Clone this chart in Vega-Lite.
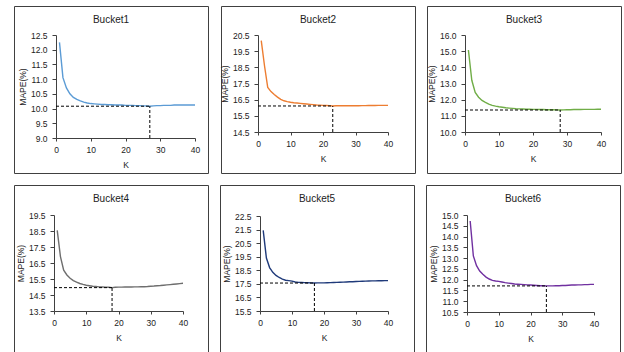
{
"$schema":"https://vega.github.io/schema/vega-lite/v6.json",
"padding":{"left":13,"top":5,"right":0,"bottom":0},
"config":{"view":{"stroke":"#404040","strokeWidth":1},"font":"Liberation Sans",
 "axis":{"grid":false,"domainColor":"#404040","tickColor":"#404040","labelColor":"#222","titleColor":"#222","labelFont":"Liberation Sans","titleFont":"Liberation Sans","labelFontSize":8.5,"titleFontSize":8.5,"titleFontWeight":"normal"},
 "axisX":{"values":[0,1,2,3,4,5,6,7,8,9,10,11,12,13,14,15,16,17,18,19,20,21,22,23,24,25,26,27,28,29,30,31,32,33,34,35,36,37,38,39,40],"labelExpr":"datum.value % 10 === 0 ? datum.label : ''","labelOverlap":false,"labelFlush":false,"tickSize":3,"labelPadding":4,"titleY":26,"titleBaseline":"middle","title":"K"},
 "axisY":{"format":".1f","tickSize":4,"labelPadding":5,"titlePadding":3,"title":"MAPE(%)","labelOverlap":false},
 "title":{"fontSize":10,"fontWeight":"normal","font":"Liberation Sans","color":"#222","anchor":"middle","frame":"group","baseline":"middle","offset":-19},
 "line":{"strokeWidth":1.4},
 "rule":{"strokeDash":[3,2],"color":"#000","strokeWidth":1}
},
"datasets":{
"mins":[{"b":1,"k0":0,"k":27,"v":10.08,"lo":9.0},{"b":2,"k0":0,"k":23,"v":16.11,"lo":14.5},{"b":3,"k0":0,"k":28,"v":11.36,"lo":10.0},{"b":4,"k0":0,"k":18,"v":14.96,"lo":13.5},{"b":5,"k0":0,"k":17,"v":17.56,"lo":15.5},{"b":6,"k0":0,"k":25,"v":11.71,"lo":10.5}],
"curves":[
{"b":1,"K":1,"M":12.25},{"b":1,"K":2,"M":11.05},{"b":1,"K":3,"M":10.7},{"b":1,"K":4,"M":10.5},{"b":1,"K":5,"M":10.38},{"b":1,"K":6,"M":10.31},{"b":1,"K":7,"M":10.26},{"b":1,"K":8,"M":10.22},{"b":1,"K":9,"M":10.19},{"b":1,"K":10,"M":10.17},{"b":1,"K":11,"M":10.16},{"b":1,"K":12,"M":10.15},{"b":1,"K":13,"M":10.14},{"b":1,"K":14,"M":10.14},{"b":1,"K":15,"M":10.13},{"b":1,"K":16,"M":10.13},{"b":1,"K":17,"M":10.12},{"b":1,"K":18,"M":10.12},{"b":1,"K":19,"M":10.12},{"b":1,"K":20,"M":10.11},{"b":1,"K":21,"M":10.11},{"b":1,"K":22,"M":10.11},{"b":1,"K":23,"M":10.1},{"b":1,"K":24,"M":10.1},{"b":1,"K":25,"M":10.09},{"b":1,"K":26,"M":10.09},{"b":1,"K":27,"M":10.08},{"b":1,"K":28,"M":10.09},{"b":1,"K":29,"M":10.1},{"b":1,"K":30,"M":10.1},{"b":1,"K":31,"M":10.11},{"b":1,"K":32,"M":10.11},{"b":1,"K":33,"M":10.11},{"b":1,"K":34,"M":10.12},{"b":1,"K":35,"M":10.12},{"b":1,"K":36,"M":10.12},{"b":1,"K":37,"M":10.12},{"b":1,"K":38,"M":10.12},{"b":1,"K":39,"M":10.12},{"b":1,"K":40,"M":10.12},
{"b":2,"K":1,"M":20.15},{"b":2,"K":2,"M":18.6},{"b":2,"K":3,"M":17.25},{"b":2,"K":4,"M":17.0},{"b":2,"K":5,"M":16.82},{"b":2,"K":6,"M":16.66},{"b":2,"K":7,"M":16.52},{"b":2,"K":8,"M":16.43},{"b":2,"K":9,"M":16.38},{"b":2,"K":10,"M":16.34},{"b":2,"K":11,"M":16.31},{"b":2,"K":12,"M":16.29},{"b":2,"K":13,"M":16.27},{"b":2,"K":14,"M":16.25},{"b":2,"K":15,"M":16.23},{"b":2,"K":16,"M":16.21},{"b":2,"K":17,"M":16.19},{"b":2,"K":18,"M":16.17},{"b":2,"K":19,"M":16.16},{"b":2,"K":20,"M":16.15},{"b":2,"K":21,"M":16.14},{"b":2,"K":22,"M":16.13},{"b":2,"K":23,"M":16.11},{"b":2,"K":24,"M":16.12},{"b":2,"K":25,"M":16.12},{"b":2,"K":26,"M":16.12},{"b":2,"K":27,"M":16.12},{"b":2,"K":28,"M":16.12},{"b":2,"K":29,"M":16.12},{"b":2,"K":30,"M":16.12},{"b":2,"K":31,"M":16.12},{"b":2,"K":32,"M":16.13},{"b":2,"K":33,"M":16.13},{"b":2,"K":34,"M":16.14},{"b":2,"K":35,"M":16.14},{"b":2,"K":36,"M":16.14},{"b":2,"K":37,"M":16.15},{"b":2,"K":38,"M":16.15},{"b":2,"K":39,"M":16.15},{"b":2,"K":40,"M":16.15},
{"b":3,"K":1,"M":15.07},{"b":3,"K":2,"M":13.2},{"b":3,"K":3,"M":12.45},{"b":3,"K":4,"M":12.15},{"b":3,"K":5,"M":11.95},{"b":3,"K":6,"M":11.83},{"b":3,"K":7,"M":11.73},{"b":3,"K":8,"M":11.65},{"b":3,"K":9,"M":11.6},{"b":3,"K":10,"M":11.56},{"b":3,"K":11,"M":11.53},{"b":3,"K":12,"M":11.5},{"b":3,"K":13,"M":11.48},{"b":3,"K":14,"M":11.46},{"b":3,"K":15,"M":11.44},{"b":3,"K":16,"M":11.43},{"b":3,"K":17,"M":11.42},{"b":3,"K":18,"M":11.41},{"b":3,"K":19,"M":11.41},{"b":3,"K":20,"M":11.4},{"b":3,"K":21,"M":11.4},{"b":3,"K":22,"M":11.39},{"b":3,"K":23,"M":11.39},{"b":3,"K":24,"M":11.38},{"b":3,"K":25,"M":11.38},{"b":3,"K":26,"M":11.38},{"b":3,"K":27,"M":11.37},{"b":3,"K":28,"M":11.36},{"b":3,"K":29,"M":11.37},{"b":3,"K":30,"M":11.38},{"b":3,"K":31,"M":11.38},{"b":3,"K":32,"M":11.39},{"b":3,"K":33,"M":11.39},{"b":3,"K":34,"M":11.39},{"b":3,"K":35,"M":11.4},{"b":3,"K":36,"M":11.4},{"b":3,"K":37,"M":11.4},{"b":3,"K":38,"M":11.4},{"b":3,"K":39,"M":11.41},{"b":3,"K":40,"M":11.41},
{"b":4,"K":1,"M":18.54},{"b":4,"K":2,"M":16.9},{"b":4,"K":3,"M":16.05},{"b":4,"K":4,"M":15.75},{"b":4,"K":5,"M":15.55},{"b":4,"K":6,"M":15.4},{"b":4,"K":7,"M":15.3},{"b":4,"K":8,"M":15.22},{"b":4,"K":9,"M":15.16},{"b":4,"K":10,"M":15.11},{"b":4,"K":11,"M":15.08},{"b":4,"K":12,"M":15.05},{"b":4,"K":13,"M":15.03},{"b":4,"K":14,"M":15.01},{"b":4,"K":15,"M":15.0},{"b":4,"K":16,"M":14.99},{"b":4,"K":17,"M":14.98},{"b":4,"K":18,"M":14.96},{"b":4,"K":19,"M":14.98},{"b":4,"K":20,"M":14.99},{"b":4,"K":21,"M":14.99},{"b":4,"K":22,"M":15.0},{"b":4,"K":23,"M":15.0},{"b":4,"K":24,"M":15.0},{"b":4,"K":25,"M":15.01},{"b":4,"K":26,"M":15.01},{"b":4,"K":27,"M":15.02},{"b":4,"K":28,"M":15.02},{"b":4,"K":29,"M":15.03},{"b":4,"K":30,"M":15.05},{"b":4,"K":31,"M":15.06},{"b":4,"K":32,"M":15.08},{"b":4,"K":33,"M":15.09},{"b":4,"K":34,"M":15.11},{"b":4,"K":35,"M":15.13},{"b":4,"K":36,"M":15.15},{"b":4,"K":37,"M":15.17},{"b":4,"K":38,"M":15.19},{"b":4,"K":39,"M":15.21},{"b":4,"K":40,"M":15.23},
{"b":5,"K":1,"M":21.44},{"b":5,"K":2,"M":19.4},{"b":5,"K":3,"M":18.7},{"b":5,"K":4,"M":18.35},{"b":5,"K":5,"M":18.12},{"b":5,"K":6,"M":17.97},{"b":5,"K":7,"M":17.85},{"b":5,"K":8,"M":17.77},{"b":5,"K":9,"M":17.74},{"b":5,"K":10,"M":17.7},{"b":5,"K":11,"M":17.64},{"b":5,"K":12,"M":17.61},{"b":5,"K":13,"M":17.6},{"b":5,"K":14,"M":17.59},{"b":5,"K":15,"M":17.58},{"b":5,"K":16,"M":17.57},{"b":5,"K":17,"M":17.56},{"b":5,"K":18,"M":17.57},{"b":5,"K":19,"M":17.57},{"b":5,"K":20,"M":17.57},{"b":5,"K":21,"M":17.58},{"b":5,"K":22,"M":17.59},{"b":5,"K":23,"M":17.6},{"b":5,"K":24,"M":17.61},{"b":5,"K":25,"M":17.62},{"b":5,"K":26,"M":17.63},{"b":5,"K":27,"M":17.64},{"b":5,"K":28,"M":17.65},{"b":5,"K":29,"M":17.66},{"b":5,"K":30,"M":17.67},{"b":5,"K":31,"M":17.68},{"b":5,"K":32,"M":17.69},{"b":5,"K":33,"M":17.7},{"b":5,"K":34,"M":17.71},{"b":5,"K":35,"M":17.72},{"b":5,"K":36,"M":17.72},{"b":5,"K":37,"M":17.73},{"b":5,"K":38,"M":17.73},{"b":5,"K":39,"M":17.74},{"b":5,"K":40,"M":17.74},
{"b":6,"K":1,"M":14.72},{"b":6,"K":2,"M":13.1},{"b":6,"K":3,"M":12.65},{"b":6,"K":4,"M":12.4},{"b":6,"K":5,"M":12.25},{"b":6,"K":6,"M":12.12},{"b":6,"K":7,"M":12.03},{"b":6,"K":8,"M":11.97},{"b":6,"K":9,"M":11.94},{"b":6,"K":10,"M":11.92},{"b":6,"K":11,"M":11.89},{"b":6,"K":12,"M":11.86},{"b":6,"K":13,"M":11.84},{"b":6,"K":14,"M":11.82},{"b":6,"K":15,"M":11.8},{"b":6,"K":16,"M":11.79},{"b":6,"K":17,"M":11.78},{"b":6,"K":18,"M":11.77},{"b":6,"K":19,"M":11.76},{"b":6,"K":20,"M":11.75},{"b":6,"K":21,"M":11.74},{"b":6,"K":22,"M":11.73},{"b":6,"K":23,"M":11.72},{"b":6,"K":24,"M":11.72},{"b":6,"K":25,"M":11.71},{"b":6,"K":26,"M":11.71},{"b":6,"K":27,"M":11.71},{"b":6,"K":28,"M":11.72},{"b":6,"K":29,"M":11.72},{"b":6,"K":30,"M":11.73},{"b":6,"K":31,"M":11.73},{"b":6,"K":32,"M":11.74},{"b":6,"K":33,"M":11.75},{"b":6,"K":34,"M":11.75},{"b":6,"K":35,"M":11.76},{"b":6,"K":36,"M":11.76},{"b":6,"K":37,"M":11.77},{"b":6,"K":38,"M":11.77},{"b":6,"K":39,"M":11.78},{"b":6,"K":40,"M":11.78}
]},
"spacing":10,
"vconcat":[
{"spacing":10,"hconcat":[
 {"width":194,"height":167,"title":"Bucket1","layer":[
  {"data":{"name":"curves"},"transform":[{"filter":"datum.b===1"}],"mark":{"type":"line","color":"#5B9BD5"},"encoding":{
   "x":{"field":"K","type":"quantitative","scale":{"domain":[0,40],"range":[42,181],"nice":false,"zero":false},"axis":{"title":"K","offset":-35}},
   "y":{"field":"M","type":"quantitative","scale":{"domain":[9,12.5],"range":[132,29],"nice":false,"zero":false},"axis":{"title":"MAPE(%)","offset":-42,"values":[9,9.5,10,10.5,11,11.5,12,12.5]}}}},
  {"data":{"name":"mins"},"transform":[{"filter":"datum.b===1"}],"mark":"rule","encoding":{"x":{"field":"k0","type":"quantitative","axis":{"title":"K","offset":-35}},"x2":{"field":"k"},"y":{"field":"v","type":"quantitative","axis":{"title":"MAPE(%)","offset":-42,"values":[9,9.5,10,10.5,11,11.5,12,12.5]}}}},
  {"data":{"name":"mins"},"transform":[{"filter":"datum.b===1"}],"mark":"rule","encoding":{"x":{"field":"k","type":"quantitative","axis":{"title":"K","offset":-35}},"y":{"field":"lo","type":"quantitative","axis":{"title":"MAPE(%)","offset":-42,"values":[9,9.5,10,10.5,11,11.5,12,12.5]}},"y2":{"field":"v"}}}
 ]},
 {"width":194,"height":167,"title":"Bucket2","layer":[
  {"data":{"name":"curves"},"transform":[{"filter":"datum.b===2"}],"mark":{"type":"line","color":"#ED7D31"},"encoding":{
   "x":{"field":"K","type":"quantitative","scale":{"domain":[0,40],"range":[37,167],"nice":false,"zero":false},"axis":{"title":"K","offset":-41}},
   "y":{"field":"M","type":"quantitative","scale":{"domain":[14.5,20.5],"range":[126,29],"nice":false,"zero":false},"axis":{"title":"MAPE(%)","offset":-37,"values":[14.5,15.5,16.5,17.5,18.5,19.5,20.5]}}}},
  {"data":{"name":"mins"},"transform":[{"filter":"datum.b===2"}],"mark":"rule","encoding":{"x":{"field":"k0","type":"quantitative","axis":{"title":"K","offset":-41}},"x2":{"field":"k"},"y":{"field":"v","type":"quantitative","axis":{"title":"MAPE(%)","offset":-37,"values":[14.5,15.5,16.5,17.5,18.5,19.5,20.5]}}}},
  {"data":{"name":"mins"},"transform":[{"filter":"datum.b===2"}],"mark":"rule","encoding":{"x":{"field":"k","type":"quantitative","axis":{"title":"K","offset":-41}},"y":{"field":"lo","type":"quantitative","axis":{"title":"MAPE(%)","offset":-37,"values":[14.5,15.5,16.5,17.5,18.5,19.5,20.5]}},"y2":{"field":"v"}}}
 ]},
 {"width":194,"height":167,"title":"Bucket3","layer":[
  {"data":{"name":"curves"},"transform":[{"filter":"datum.b===3"}],"mark":{"type":"line","color":"#70AD47"},"encoding":{
   "x":{"field":"K","type":"quantitative","scale":{"domain":[0,40],"range":[38,174],"nice":false,"zero":false},"axis":{"title":"K","offset":-41}},
   "y":{"field":"M","type":"quantitative","scale":{"domain":[10,16],"range":[126,29],"nice":false,"zero":false},"axis":{"title":"MAPE(%)","offset":-38,"values":[10,11,12,13,14,15,16]}}}},
  {"data":{"name":"mins"},"transform":[{"filter":"datum.b===3"}],"mark":"rule","encoding":{"x":{"field":"k0","type":"quantitative","axis":{"title":"K","offset":-41}},"x2":{"field":"k"},"y":{"field":"v","type":"quantitative","axis":{"title":"MAPE(%)","offset":-38,"values":[10,11,12,13,14,15,16]}}}},
  {"data":{"name":"mins"},"transform":[{"filter":"datum.b===3"}],"mark":"rule","encoding":{"x":{"field":"k","type":"quantitative","axis":{"title":"K","offset":-41}},"y":{"field":"lo","type":"quantitative","axis":{"title":"MAPE(%)","offset":-38,"values":[10,11,12,13,14,15,16]}},"y2":{"field":"v"}}}
 ]}
]},
{"spacing":10,"hconcat":[
 {"width":194,"height":167,"title":"Bucket4","layer":[
  {"data":{"name":"curves"},"transform":[{"filter":"datum.b===4"}],"mark":{"type":"line","color":"#6E6E6E"},"encoding":{
   "x":{"field":"K","type":"quantitative","scale":{"domain":[0,40],"range":[40,169],"nice":false,"zero":false},"axis":{"title":"K","offset":-41}},
   "y":{"field":"M","type":"quantitative","scale":{"domain":[13.5,19.5],"range":[126,30],"nice":false,"zero":false},"axis":{"title":"MAPE(%)","offset":-40,"values":[13.5,14.5,15.5,16.5,17.5,18.5,19.5]}}}},
  {"data":{"name":"mins"},"transform":[{"filter":"datum.b===4"}],"mark":"rule","encoding":{"x":{"field":"k0","type":"quantitative","axis":{"title":"K","offset":-41}},"x2":{"field":"k"},"y":{"field":"v","type":"quantitative","axis":{"title":"MAPE(%)","offset":-40,"values":[13.5,14.5,15.5,16.5,17.5,18.5,19.5]}}}},
  {"data":{"name":"mins"},"transform":[{"filter":"datum.b===4"}],"mark":"rule","encoding":{"x":{"field":"k","type":"quantitative","axis":{"title":"K","offset":-41}},"y":{"field":"lo","type":"quantitative","axis":{"title":"MAPE(%)","offset":-40,"values":[13.5,14.5,15.5,16.5,17.5,18.5,19.5]}},"y2":{"field":"v"}}}
 ]},
 {"width":194,"height":167,"title":"Bucket5","layer":[
  {"data":{"name":"curves"},"transform":[{"filter":"datum.b===5"}],"mark":{"type":"line","color":"#1F3A7A"},"encoding":{
   "x":{"field":"K","type":"quantitative","scale":{"domain":[0,40],"range":[40,168],"nice":false,"zero":false},"axis":{"title":"K","offset":-41}},
   "y":{"field":"M","type":"quantitative","scale":{"domain":[15.5,22.5],"range":[126,31],"nice":false,"zero":false},"axis":{"title":"MAPE(%)","offset":-40,"values":[15.5,16.5,17.5,18.5,19.5,20.5,21.5,22.5]}}}},
  {"data":{"name":"mins"},"transform":[{"filter":"datum.b===5"}],"mark":"rule","encoding":{"x":{"field":"k0","type":"quantitative","axis":{"title":"K","offset":-41}},"x2":{"field":"k"},"y":{"field":"v","type":"quantitative","axis":{"title":"MAPE(%)","offset":-40,"values":[15.5,16.5,17.5,18.5,19.5,20.5,21.5,22.5]}}}},
  {"data":{"name":"mins"},"transform":[{"filter":"datum.b===5"}],"mark":"rule","encoding":{"x":{"field":"k","type":"quantitative","axis":{"title":"K","offset":-41}},"y":{"field":"lo","type":"quantitative","axis":{"title":"MAPE(%)","offset":-40,"values":[15.5,16.5,17.5,18.5,19.5,20.5,21.5,22.5]}},"y2":{"field":"v"}}}
 ]},
 {"width":194,"height":167,"title":"Bucket6","layer":[
  {"data":{"name":"curves"},"transform":[{"filter":"datum.b===6"}],"mark":{"type":"line","color":"#7030A0"},"encoding":{
   "x":{"field":"K","type":"quantitative","scale":{"domain":[0,40],"range":[41,168],"nice":false,"zero":false},"axis":{"title":"K","offset":-40}},
   "y":{"field":"M","type":"quantitative","scale":{"domain":[10.5,15],"range":[127,30],"nice":false,"zero":false},"axis":{"title":"MAPE(%)","offset":-41,"values":[10.5,11,11.5,12,12.5,13,13.5,14,14.5,15]}}}},
  {"data":{"name":"mins"},"transform":[{"filter":"datum.b===6"}],"mark":"rule","encoding":{"x":{"field":"k0","type":"quantitative","axis":{"title":"K","offset":-40}},"x2":{"field":"k"},"y":{"field":"v","type":"quantitative","axis":{"title":"MAPE(%)","offset":-41,"values":[10.5,11,11.5,12,12.5,13,13.5,14,14.5,15]}}}},
  {"data":{"name":"mins"},"transform":[{"filter":"datum.b===6"}],"mark":"rule","encoding":{"x":{"field":"k","type":"quantitative","axis":{"title":"K","offset":-40}},"y":{"field":"lo","type":"quantitative","axis":{"title":"MAPE(%)","offset":-41,"values":[10.5,11,11.5,12,12.5,13,13.5,14,14.5,15]}},"y2":{"field":"v"}}}
 ]}
]}
]
}
